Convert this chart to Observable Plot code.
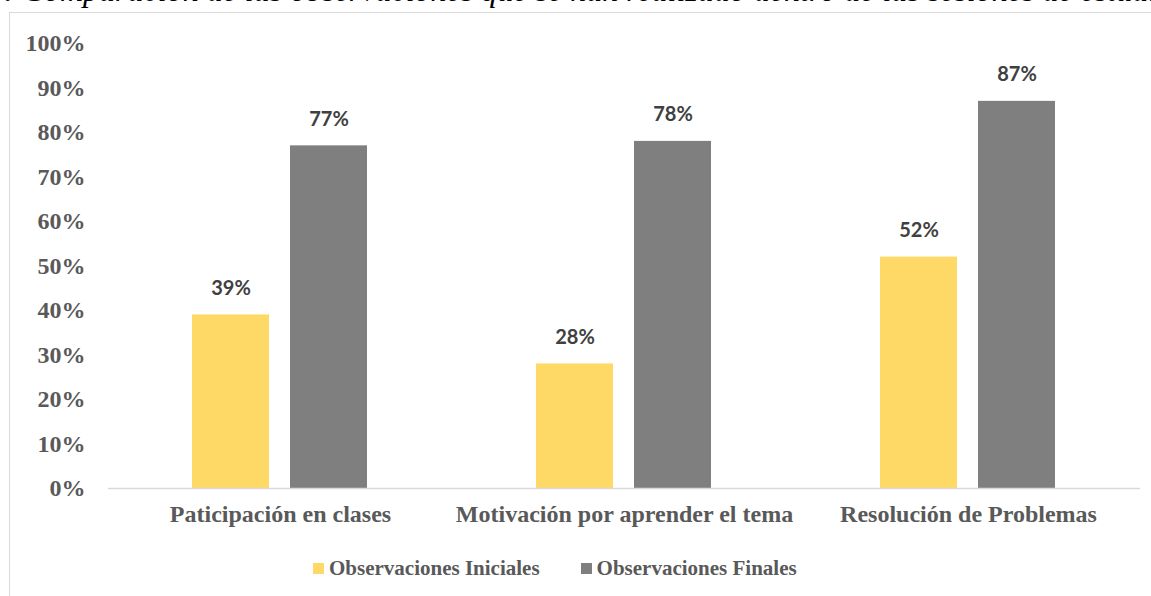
<!DOCTYPE html>
<html>
<head>
<meta charset="utf-8">
<script src="https://cdn.jsdelivr.net/npm/d3@7"></script>
<script src="https://cdn.jsdelivr.net/npm/@observablehq/plot@0.6"></script>
<style>
  html, body { margin: 0; padding: 0; background: #fff; }
  #wrap { position: relative; width: 1151px; height: 596px; overflow: hidden; background: #fff; }
  #title { position: absolute; left: 4px; top: -28px; font: italic 32px "Liberation Serif", "Times New Roman", serif; color: #000; white-space: nowrap; }
  #frame { position: absolute; left: 9px; top: 12px; width: 1170px; height: 620px; border: 1.5px solid #d9d9d9; box-sizing: border-box; }
  #chart { position: absolute; left: 0; top: 0; }
  #legend { position: absolute; left: 313px; top: 556px; display: flex; align-items: center; font: bold 21px "Liberation Serif", "Times New Roman", serif; color: #595959; white-space: nowrap; }
  #legend .sw { display: inline-block; width: 11px; height: 11px; margin-right: 5px; }
  #legend .item { display: flex; align-items: center; margin-right: 41px; }
</style>
</head>
<body>
<div id="wrap">
  <div id="title"><b>:</b> Comparación de las observaciones que se han realizado dentro de las sesiones de estudio</div>
  <div id="frame"></div>
  <div id="chart"></div>
  <div id="legend"></div>
</div>
<script>
const categories = ["Paticipación en clases", "Motivación por aprender el tema", "Resolución de Problemas"];
const seriesNames = ["Observaciones Iniciales", "Observaciones Finales"];
const iniciales = [0.39, 0.28, 0.52];
const finales = [0.77, 0.78, 0.87];
const colors = ["#FFD966", "#7F7F7F"];
const yTicks = [0, 0.1, 0.2, 0.3, 0.4, 0.5, 0.6, 0.7, 0.8, 0.9, 1.0];

const data = [];
categories.forEach((c, i) => {
  data.push({category: c, series: seriesNames[0], value: iniciales[i]});
  data.push({category: c, series: seriesNames[1], value: finales[i]});
});

const serif = "'Liberation Serif', 'Times New Roman', serif";
const plot = Plot.plot({
  width: 1151,
  height: 535,
  marginLeft: 107,
  marginRight: 11,
  marginTop: 43,
  marginBottom: 47,
  style: {background: "transparent", overflow: "visible"},
  fx: {domain: categories, padding: 0, label: null, axis: null},
  x: {domain: seriesNames, paddingInner: 0.214, paddingOuter: 0.862, axis: null},
  y: {domain: [0, 1], axis: null},
  color: {domain: seriesNames, range: colors},
  marks: [
    Plot.axisY({ticks: yTicks, tickFormat: d3.format(".0%"), tickSize: 0, tickPadding: 23, fontSize: 24, fontWeight: "bold", fontFamily: serif, fill: "#595959", label: null}),
    Plot.axisFx({anchor: "bottom", tickSize: 0, tickPadding: 16, fontSize: 24, fontWeight: "bold", fontFamily: serif, fill: "#595959", label: null}),
    Plot.barY(data, {fx: "category", x: "series", y: "value", fill: "series"}),
    Plot.ruleY([0], {stroke: "#d9d9d9", strokeWidth: 1.5}),
    Plot.text(data, {fx: "category", x: "series", y: "value", text: d => Math.round(d.value * 100) + "%", lineAnchor: "bottom", dy: -20, fontSize: 20, fontWeight: "bold", fontFamily: "Lato, 'Open Sans', sans-serif", fill: "#404040"})
  ]
});
document.getElementById("chart").appendChild(plot);

const legend = document.getElementById("legend");
seriesNames.forEach((s, i) => {
  const item = document.createElement("span");
  item.className = "item";
  const sw = document.createElement("span");
  sw.className = "sw";
  sw.style.background = colors[i];
  item.appendChild(sw);
  item.appendChild(document.createTextNode(s));
  legend.appendChild(item);
});
</script>
</body>
</html>
